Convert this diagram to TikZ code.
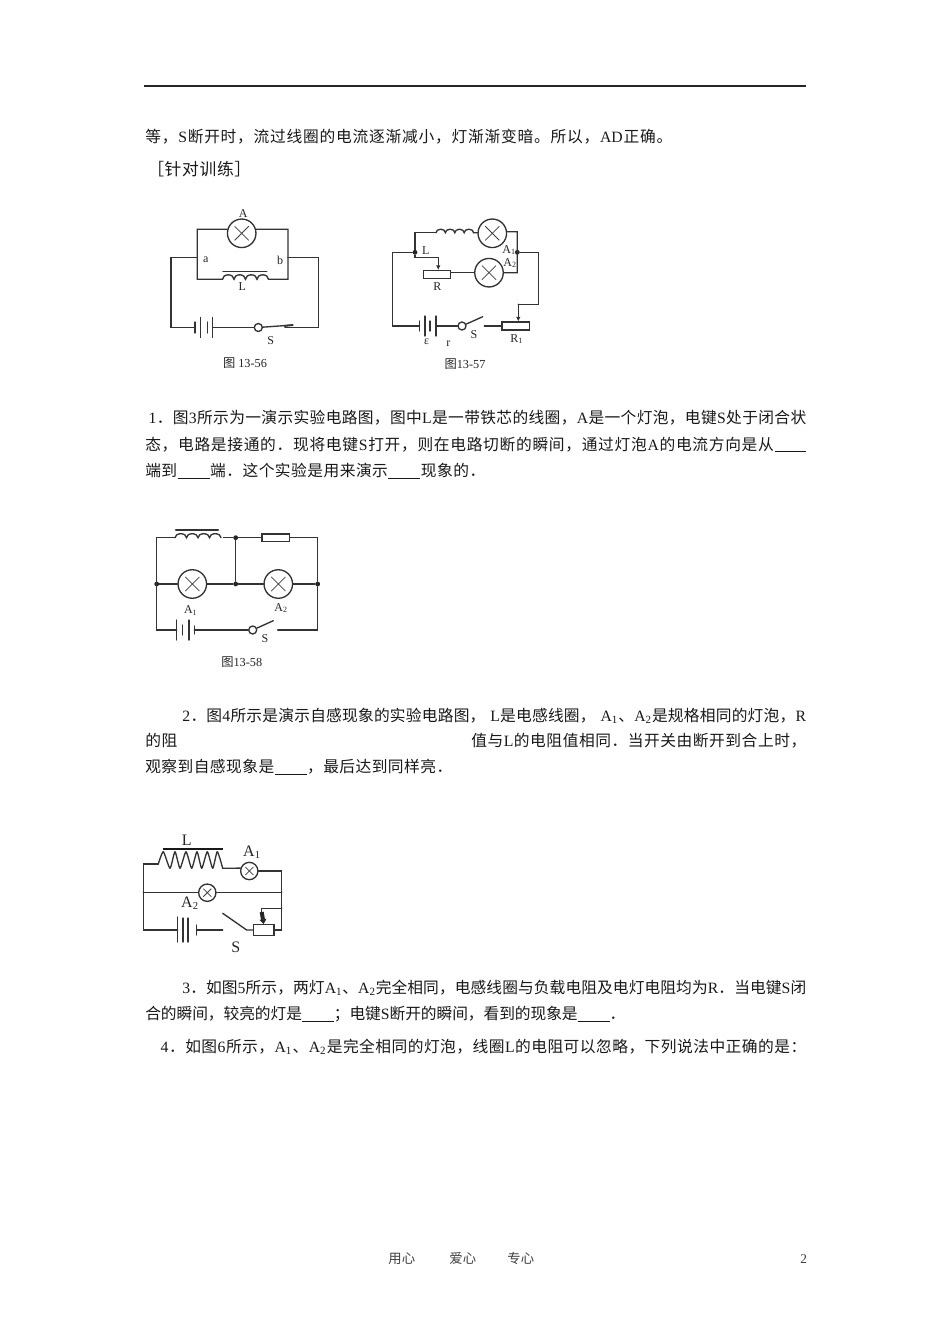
\documentclass[tikz,border=0pt]{standalone}
\usepackage{fontspec}
\setmainfont{Liberation Serif}
\newfontfamily\cjk{Noto Sans CJK SC}
\newfontfamily\latf{Liberation Serif}
\usetikzlibrary{arrows.meta,calc}
\newXeTeXintercharclass\cjkcl
\newcount\ccnt
\ccnt="4E00
\loop \XeTeXcharclass\ccnt=\cjkcl \ifnum\ccnt<"9FFF \advance\ccnt by 1 \repeat
\XeTeXcharclass"3001=\cjkcl \XeTeXcharclass"3002=\cjkcl \XeTeXcharclass"FF0C=\cjkcl
\XeTeXcharclass"FF0E=\cjkcl \XeTeXcharclass"FF1A=\cjkcl \XeTeXcharclass"FF1B=\cjkcl
\XeTeXcharclass"FF3B=\cjkcl \XeTeXcharclass"FF3D=\cjkcl
\newcommand\gl{\hskip 0pt plus 1fil minus 1pt\relax}
\XeTeXinterchartoks\cjkcl\cjkcl={\gl}
\XeTeXinterchartokenstate=1
\newlength\pxu \pxu=0.75pt
\newcommand\La[1]{\gl{\latf #1}\gl}
\newcommand\Sb[2]{{\latf #1\textsubscript{#2}}}
\newcommand\SbL[2]{\gl{\latf #1\textsubscript{#2}}\gl}
\newcommand\blank[1]{\gl\rule[-0.13em]{#1\pxu}{0.6pt}\gl}
\newcommand\jl[2]{\hbox to #1\pxu{\cjk #2}}
\tikzset{
 wire/.style={line width=1pt,draw=black!80,line cap=round,line join=miter},
 lamp/.style={circle,draw=black!80,line width=1pt,minimum size=21.4pt,inner sep=0pt,fill=white,
   path picture={\draw[line width=0.55pt,black!75] ($(path picture bounding box.center)+(-5.3pt,-5.3pt)$)--($(path picture bounding box.center)+(5.3pt,5.3pt)$)
     ($(path picture bounding box.center)+(-5.3pt,5.3pt)$)--($(path picture bounding box.center)+(5.3pt,-5.3pt)$);}},
 smalllamp/.style={lamp,minimum size=13pt,
   path picture={\draw[line width=0.55pt,black!75] ($(path picture bounding box.center)+(-3pt,-3pt)$)--($(path picture bounding box.center)+(3pt,3pt)$)
     ($(path picture bounding box.center)+(-3pt,3pt)$)--($(path picture bounding box.center)+(3pt,-3pt)$);}},
 res/.style={rectangle,draw=black!80,line width=1pt,inner sep=0pt,fill=white},
 swc/.style={circle,draw=black!80,line width=1pt,minimum size=6pt,inner sep=0pt,fill=white},
 dot/.style={circle,fill=black!85,minimum size=3.6pt,inner sep=0pt},
 lbl/.style={inner sep=0pt,text=black!85,font=\fontsize{9pt}{9pt}\selectfont},
 biglbl/.style={inner sep=0pt,text=black!85,font=\fontsize{12pt}{12pt}\selectfont},
 figcap/.style={inner sep=0pt,text=black!85,font=\fontsize{9.2pt}{9.2pt}\selectfont},
 txt/.style={anchor=base west,inner sep=0pt,text=black!90,font=\fontsize{11.8pt}{12pt}\selectfont},
 foot/.style={anchor=base west,inner sep=0pt,text=black!75,font=\fontsize{10pt}{12pt}\selectfont},
 arr/.style={wire,-{Latex[length=3.5pt,width=3.5pt]}},
}
\begin{document}
\begin{tikzpicture}[x=0.75pt,y=-0.75pt]
\useasboundingbox (0,0) rectangle (950,1344);
\fill[white] (0,0) rectangle (950,1344);
% header
\coordinate (h1) at (144,86); \coordinate (h2) at (806,86);
\draw[line width=1pt,black!85] (h1)--(h2);
% text
\node[txt] (t1) at (145,142.5) {\jl{527}{等，\La{S}断开时，流过线圈的电流逐渐减小，灯渐渐变暗。所以，\La{AD}正确。}};
\node[txt,font=\fontsize{12.6pt}{13pt}\selectfont] (t2) at (147,176) {\jl{104}{［针对训练］}};
\node[txt] (p1a) at (148,423.5) {\jl{658}{\La{1}．图\La{3}所示为一演示实验电路图，图中\La{L}是一带铁芯的线圈，\La{A}是一个灯泡，电键\La{S}处于闭合状}};
\node[txt] (p1b) at (145,450) {\jl{661}{态，电路是接通的．现将电键\La{S}打开，则在电路切断的瞬间，通过灯泡\La{A}的电流方向是从\blank{31}}};
\node[txt] (p1c) at (145,476.5) {\jl{340}{端到\blank{32}端．这个实验是用来演示\blank{32}现象的．}};
\node[txt] (p2a) at (182,721.5) {\jl{624}{\La{2}．图\La{4}所示是演示自感现象的实验电路图，\hskip .3em\La{L}是电感线圈，\hskip .3em\SbL{A}{1}、\SbL{A}{2}是规格相同的灯泡，\La{R}}};
\node[txt] (p2b) at (145,746.5) {\jl{32}{的阻}};
\node[txt] (p2c) at (471,746.5) {\jl{335}{值与\La{L}的电阻值相同．当开关由断开到合上时，}};
\node[txt] (p2d) at (145,772.5) {\jl{307}{观察到自感现象是\blank{32}，最后达到同样亮．}};
\node[txt] (p3a) at (182,993.5) {\jl{624}{\La{3}．如图\La{5}所示，两灯\SbL{A}{1}、\SbL{A}{2}完全相同，电感线圈与负载电阻及电灯电阻均为\La{R}．当电键\La{S}闭}};
\node[txt] (p3b) at (145,1019.5) {\jl{480}{合的瞬间，较亮的灯是\blank{32}；电键\La{S}断开的瞬间，看到的现象是\blank{32}．}};
\node[txt] (p4a) at (160,1052.5) {\jl{646}{\La{4}．如图\La{6}所示，\SbL{A}{1}、\SbL{A}{2}是完全相同的灯泡，线圈\La{L}的电阻可以忽略，下列说法中正确的是：}};
\node[foot] (f1) at (388,1263) {\jl{27}{用心}};
\node[foot] (f2) at (449,1263) {\jl{27}{爱心}};
\node[foot] (f3) at (507,1263) {\jl{27}{专心}};
\node[foot] (f4) at (800,1263) {{\latf 2}};

% ===== Fig 13-56 =====
\node[lamp] (aL) at (241.7,233.3) {};
\coordinate (aTL) at (197.3,229.3); \coordinate (aTR) at (288,229.3);
\coordinate (aBL) at (197.3,279.3); \coordinate (aBR) at (288,279.3);
\coordinate (aC1) at (222.5,279.3); \coordinate (aC2) at (268.5,279.3);
\coordinate (aML) at (197.3,257.7); \coordinate (aMR) at (288,257.7);
\coordinate (aOL) at (171,257.7); \coordinate (aOR) at (318.3,257.7);
\coordinate (aDL) at (171,327.5); \coordinate (aDR) at (318.3,327.5);
\coordinate (aB1) at (195,327.5); \coordinate (aB2) at (212.7,327.5);
\coordinate (aSe) at (293,325); \coordinate (aSw) at (285,327.5);
\node[swc] (aS) at (258.3,327.5) {};
\draw[wire] (aL.164)--(aTL)--(aBL)--(aC1);
\draw[wire] (aL.16)--(aTR)--(aBR)--(aC2);
\draw[wire] (aC1) foreach \i in {1,2,3,4}{ arc[start angle=180,end angle=360,x radius=5.75,y radius=4.5] };
\draw[wire] (223,271.7)--(266.7,271.7);
\draw[wire] (aML)--(aOL)--(aDL)--(aB1);
\draw[wire] (aMR)--(aOR)--(aDR)--(aSw);
\draw[wire] (aB1) ++(0,-5.5)--++(0,11);
\draw[wire] (200.7,317.5)--(200.7,337.5);
\draw[wire] (207.3,322)--(207.3,333);
\draw[wire] (aB2) ++(0,-10)--++(0,20);
\draw[wire] (aB2)--(aS);
\draw[wire] (aS)--(aSe);
\draw[line width=1.4pt,black!80] (284,326)--(aSe);
\node[lbl] (aA) at (243.3,214) {A};
\node[lbl] (aa) at (205.7,260) {a};
\node[lbl] (ab) at (280,260) {b};
\node[lbl] (aLb) at (242.3,287) {L};
\node[lbl] (aSb) at (270.7,341) {S};
\node[figcap] (aCap) at (245,363.5) {{\cjk 图} 13-56};

% ===== Fig 13-57 =====
\node[lamp] (bA1) at (492.3,233.3) {};
\node[lamp] (bA2) at (489,272.7) {};
\node[res,minimum width=20.5pt,minimum height=5.8pt] (bR) at (437,274.5) {};
\node[res,minimum width=20.5pt,minimum height=5.8pt] (bR1) at (515.8,326) {};
\node[swc] (bS) at (462,326) {};
\node[dot] (bN1) at (415,252.3) {};
\node[dot] (bN2) at (517.3,252.3) {};
\coordinate (bT) at (415,232.7); \coordinate (bC1) at (436,232.7); \coordinate (bC2) at (473.5,232.7);
\coordinate (bG1) at (517.3,231.7); \coordinate (bG2) at (517.3,272.7);
\coordinate (bK1) at (415,257.7); \coordinate (bK2) at (438.3,257.7);
\coordinate (bO1) at (392.7,252.3); \coordinate (bO2) at (392.7,326);
\coordinate (bP1) at (538.7,252.3); \coordinate (bP2) at (538.7,304.3); \coordinate (bP3) at (518.3,304.3);
\coordinate (bB1) at (419.5,326); \coordinate (bB2) at (436,326);
\coordinate (bSe) at (482.7,316.7); \coordinate (bW) at (484.3,326);
\draw[wire] (bN1)--(bT)--(bC1);
\draw[wire] (bC1) foreach \i in {1,2,3,4}{ arc[start angle=180,end angle=360,x radius=4.7,y radius=3.5] };
\draw[wire] (bC2)--(bA1);
\draw[wire] (bA1.6)--(bG1)--(bG2)--(bA2);
\draw[wire] (bN1)--(bK1)--(bK2);
\draw[arr] (bK2)--(bR.north -| bK2);
\draw[wire] (bR.east |- bA2)--(bA2);
\draw[wire] (bN1)--(bO1)--(bO2)--(bB1);
\draw[wire] (bN2)--(bP1)--(bP2)--(bP3);
\draw[arr] (bP3)--(bR1.north -| bP3);
\draw[wire] (bB1) ++(0,-5)--++(0,10);
\draw[wire] (425,316)--(425,336);
\draw[wire] (430,321)--(430,331);
\draw[wire] (bB2) ++(0,-10)--++(0,20);
\draw[wire] (bB2)--(bS);
\draw[wire] (bS)--(bSe);
\draw[wire] (bW)--(bR1);
\node[lbl] (bLL) at (425.7,250.7) {L};
\node[lbl] (bLA1) at (509,250) {\Sb{A}{1}};
\node[lbl] (bLA2) at (510,263.3) {\Sb{A}{2}};
\node[lbl] (bLR) at (437.3,287) {R};
\node[lbl] (bLe) at (426.7,341.7) {ε};
\node[lbl] (bLr) at (448.3,344) {r};
\node[lbl] (bLS) at (474,335) {S};
\node[lbl] (bLR1) at (516.7,339.3) {\Sb{R}{1}};
\node[figcap] (bCap) at (465,364.5) {{\cjk 图}13-57};

% ===== Fig 13-58 =====
\node[lamp] (cA1) at (192.3,584) {};
\node[lamp] (cA2) at (278.3,584) {};
\node[res,minimum width=20.5pt,minimum height=5.6pt] (cR) at (275.8,537.7) {};
\node[dot] (cN1) at (156.7,584) {};
\node[dot] (cN2) at (235.7,537.7) {};
\node[dot] (cN3) at (235.7,584) {};
\node[dot] (cN4) at (317.7,584) {};
\node[swc] (cS) at (252.7,630) {};
\coordinate (cTL) at (156.7,537.7); \coordinate (cTR) at (317.7,537.7);
\coordinate (cC1) at (175,537.7); \coordinate (cC2) at (221,537.7);
\coordinate (cBL) at (156.7,630); \coordinate (cBR) at (317.7,630);
\coordinate (cB1) at (176.7,630); \coordinate (cB2) at (194.3,630);
\coordinate (cSe) at (273.3,620.7); \coordinate (cW) at (277.7,630);
\draw[wire] (cC1)--(cTL)--(cBL)--(cB1);
\draw[wire] (cC1) foreach \i in {1,2,3,4}{ arc[start angle=180,end angle=360,x radius=5.75,y radius=4] };
\draw[wire] (175.7,530)--(218.3,530);
\draw[wire] (223.5,537.7)--(cN2)--(cR);
\draw[wire] (cR)--(cTR)--(cN4);
\draw[wire] (cN4)--(cBR)--(cW);
\draw[wire] (cN2)--(cN3);
\draw[wire] (cN1)--(cA1)--(cN3)--(cA2)--(cN4);
\draw[wire] (cB1) ++(0,-10)--++(0,20);
\draw[wire] (182.3,625)--(182.3,635);
\draw[wire] (189,620)--(189,640);
\draw[wire] (cB2) ++(0,-4)--++(0,8);
\draw[wire] (cB2)--(cS);
\draw[wire] (cS)--(cSe);
\node[lbl] (cLA1) at (190.7,610.7) {\Sb{A}{1}};
\node[lbl] (cLA2) at (281,608.3) {\Sb{A}{2}};
\node[lbl] (cLS) at (265,638.5) {S};
\node[figcap] (cCap) at (241.7,662.5) {{\cjk 图}13-58};

% ===== Fig 4 =====
\node[smalllamp] (dA1) at (249.3,871) {};
\node[smalllamp] (dA2) at (207.3,892.7) {};
\node[res,minimum width=15.5pt,minimum height=8pt] (dR) at (263.7,930) {};
\coordinate (dTL) at (143.3,864); \coordinate (dC1) at (158.3,864); \coordinate (dC2) at (222.7,868.3);
\coordinate (dML) at (143.3,892.7); \coordinate (dMR) at (281.7,892.7);
\coordinate (dBL) at (143.3,930); \coordinate (dBR) at (281.7,930);
\coordinate (dTR) at (281.7,871);
\coordinate (dB1) at (177.7,930); \coordinate (dB2) at (196.7,930);
\coordinate (dSw) at (222.7,930); \coordinate (dSa) at (222.7,913.3); \coordinate (dSb) at (246.7,930);
\coordinate (dAr) at (261.7,908.3); \coordinate (dAe) at (281.7,908.3);
\draw[wire] (dC1)--(dTL)--(dBL)--(dB1);
\draw[wire,line join=round] plot[smooth,tension=0.35] coordinates {(158.3,864)(163.3,851.7)(170,868.3)(175,851.7)(180,868.3)(186,851.7)(191.7,868.3)(197,851.7)(201.7,868.3)(207.3,851.7)(212.7,868.3)(217.3,851.7)(222.7,868.3)};
\draw[line width=1.7pt,black!90] (163.3,849)--(222.7,849);
\draw[wire] (dC2)--(dA1.162);
\draw[wire] (dA1)--(dTR)--(dBR)--(dR);
\draw[wire] (dML)--(dA2)--(dMR);
\draw[wire] (dB1) ++(0,-13)--++(0,25);
\draw[wire] (183,918)--(183,942);
\draw[wire] (188,918)--(188,942);
\draw[wire] (dB2) ++(0,-5)--++(0,10);
\draw[wire] (dB2)--(dSw);
\draw[wire] (dSa)--(dSb)--(dR);
\draw[wire] (dAe)--(dAr)--(261.7,912);
\draw[line width=3pt,black!85,-{Triangle[length=3.5pt,width=5pt]}] (261.7,912)--(dR.north);
\node[biglbl] (dLL) at (186.7,840) {L};
\node[biglbl] (dLA1) at (252,852) {A\textsubscript{1}};
\node[biglbl] (dLA2) at (190,903) {A\textsubscript{2}};
\node[biglbl] (dLS) at (235.7,947) {S};
\end{tikzpicture}
\end{document}
